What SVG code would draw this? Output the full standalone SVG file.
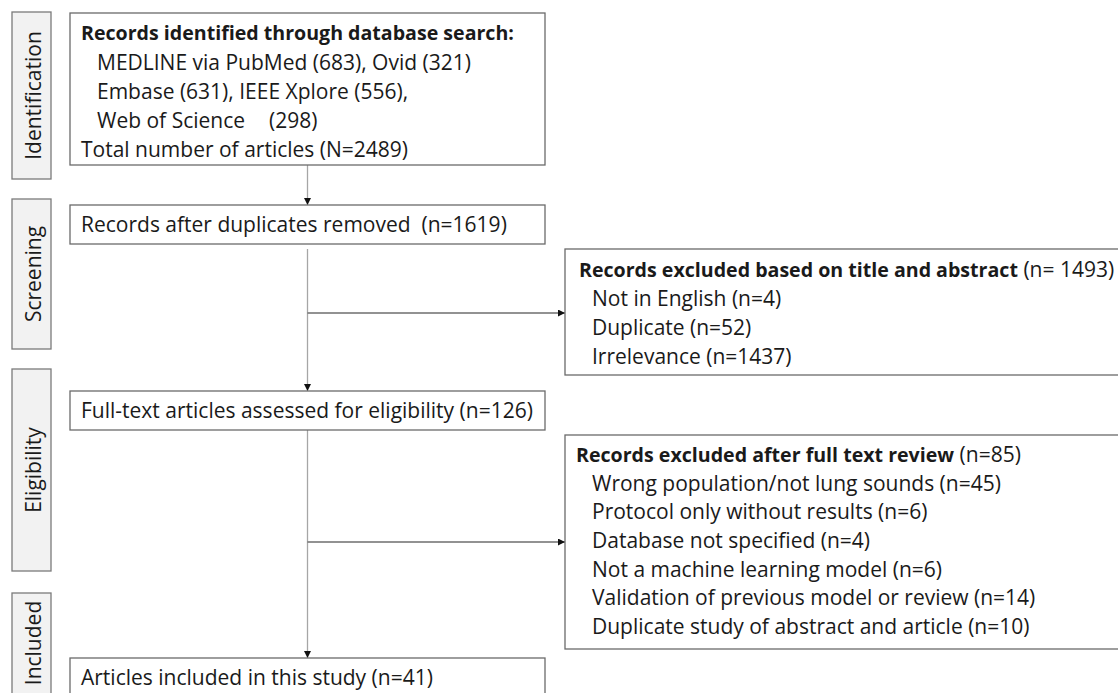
<svg xmlns="http://www.w3.org/2000/svg" width="1118" height="693" viewBox="0 0 1118 693">
<style>
text{font-family:"Open Sans","Noto Sans","Liberation Sans",sans-serif;font-size:21px;fill:#1a1a1a}
.b{font-weight:bold;font-size:19.6px}
.stage rect{fill:#f2f2f2;stroke:#7a7a7a;stroke-width:1.3}
.box rect{fill:#fff;stroke:#6a6a6a;stroke-width:1.3}
.v{stroke:#a6a6a6;stroke-width:1.3;fill:none}
.h{stroke:#6e6e6e;stroke-width:1.3;fill:none}
</style>
<defs>
<marker id="ah" viewBox="0 0 10 10" refX="10" refY="5" markerWidth="7" markerHeight="7" markerUnits="userSpaceOnUse" orient="auto"><path d="M0,0 L10,5 L0,10 z" fill="#111"/></marker>
</defs>
<rect width="1118" height="693" fill="#fff"/>
<g id="stage-identification" class="stage"><rect x="12" y="12" width="39" height="167"/><text transform="translate(40.5,95.5) rotate(-90)" text-anchor="middle">Identification</text></g>
<g id="stage-screening" class="stage"><rect x="12" y="199" width="39" height="150"/><text transform="translate(40.5,274) rotate(-90)" text-anchor="middle">Screening</text></g>
<g id="stage-eligibility" class="stage"><rect x="12" y="369" width="39" height="202"/><text transform="translate(40.5,470) rotate(-90)" text-anchor="middle">Eligibility</text></g>
<g id="stage-included" class="stage"><rect x="12" y="593" width="39" height="102"/><text transform="translate(40.5,643) rotate(-90)" text-anchor="middle">Included</text></g>

<g id="connectors">
<line class="v" x1="307.5" y1="165" x2="307.5" y2="205" marker-end="url(#ah)"/>
<line class="v" x1="307.5" y1="249" x2="307.5" y2="391" marker-end="url(#ah)"/>
<line class="h" x1="307.5" y1="313" x2="565" y2="313" marker-end="url(#ah)"/>
<line class="v" x1="307.5" y1="430" x2="307.5" y2="658" marker-end="url(#ah)"/>
<line class="h" x1="307.5" y1="542" x2="565" y2="542" marker-end="url(#ah)"/>
</g>

<g id="node-identified" class="box"><rect x="70" y="13" width="475" height="152"/>
<text x="81" y="40" class="b">Records identified through database search:</text>
<text x="97" y="70">MEDLINE via PubMed (683), Ovid (321)</text>
<text x="97" y="99">Embase (631), IEEE Xplore (556),</text>
<text x="97" y="128">Web of Science<tspan x="269">(298)</tspan></text>
<text x="81" y="157">Total number of articles (N=2489)</text>
</g>
<g id="node-deduplicated" class="box"><rect x="70" y="205" width="475" height="39"/>
<text x="81" y="232" xml:space="preserve">Records after duplicates removed  (n=1619)</text>
</g>
<g id="node-fulltext" class="box"><rect x="70" y="391" width="475" height="39"/>
<text x="81" y="418">Full-text articles assessed for eligibility (n=126)</text>
</g>
<g id="node-included" class="box"><rect x="70" y="658" width="475" height="40"/>
<text x="81" y="685">Articles included in this study (n=41)</text>
</g>
<g id="node-excluded-title" class="box"><rect x="565" y="249" width="565" height="126"/>
<text x="579" y="277"><tspan class="b">Records excluded based on title and abstract</tspan> (n= 1493)</text>
<text x="592" y="306">Not in English (n=4)</text>
<text x="592" y="335">Duplicate (n=52)</text>
<text x="592" y="364">Irrelevance (n=1437)</text>
</g>
<g id="node-excluded-fulltext" class="box"><rect x="565" y="435" width="565" height="214"/>
<text x="576" y="462"><tspan class="b">Records excluded after full text review</tspan> (n=85)</text>
<text x="592" y="491">Wrong population/not lung sounds (n=45)</text>
<text x="592" y="519">Protocol only without results (n=6)</text>
<text x="592" y="548">Database not specified (n=4)</text>
<text x="592" y="577">Not a machine learning model (n=6)</text>
<text x="592" y="605">Validation of previous model or review (n=14)</text>
<text x="592" y="634">Duplicate study of abstract and article (n=10)</text>
</g>
</svg>
